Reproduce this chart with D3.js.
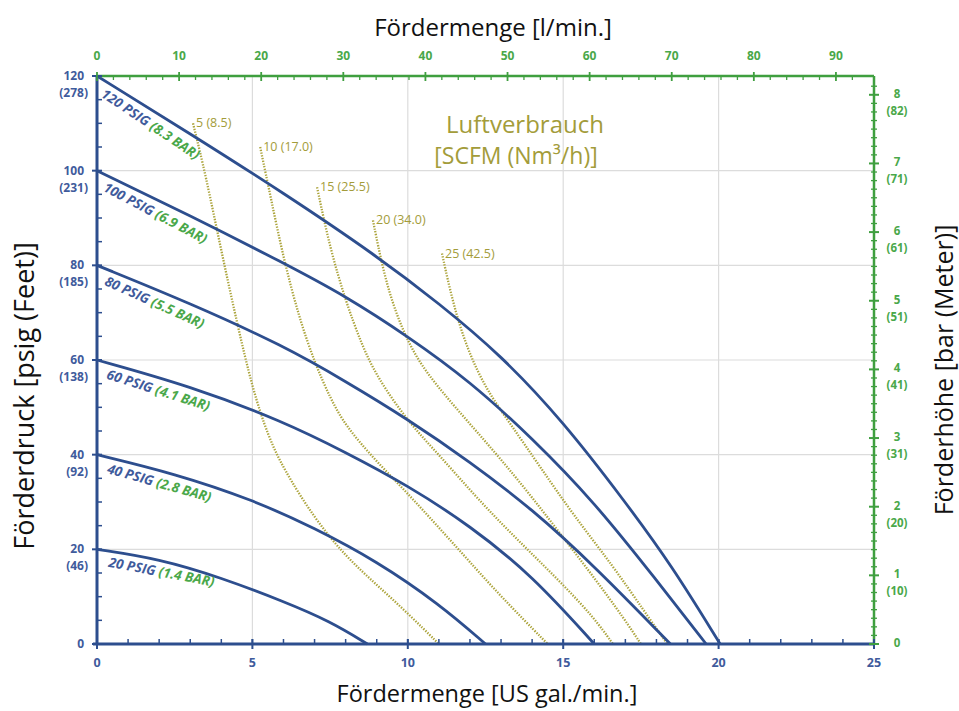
<!DOCTYPE html>
<html>
<head>
<meta charset="utf-8">
<script src="https://cdn.jsdelivr.net/npm/d3@7"></script>
<style>
  body { margin: 0; background: #fff; }
  text { font-family: "Open Sans", sans-serif; }
</style>
</head>
<body>
<div class="pumpChart"></div>
<script>
// axis ticks
const gpmTicks = [0, 5, 10, 15, 20, 25];
const lpmTicks = [0, 10, 20, 30, 40, 50, 60, 70, 80, 90];
const psiTicks = [0, 20, 40, 60, 80, 100, 120];
const feetLabels = ["", "(46)", "(92)", "(138)", "(185)", "(231)", "(278)"];
const barTicks = [0, 1, 2, 3, 4, 5, 6, 7, 8];
const meterLabels = ["", "(10)", "(20)", "(31)", "(41)", "(51)", "(61)", "(71)", "(82)"];

// pressure curves [US gal/min, psi]
const psiNames = ["120 PSIG ", "100 PSIG ", "80 PSIG ", "60 PSIG ", "40 PSIG ", "20 PSIG "];
const barNames = ["(8.3 BAR)", "(6.9 BAR)", "(5.5 BAR)", "(4.1 BAR)", "(2.8 BAR)", "(1.4 BAR)"];
const psi120 = [[0,120],[3,107.8],[6,95.3],[9,82],[11,72],[13,61],[15,47],[17,30],[18.5,16.5],[20.05,0]];
const psi100 = [[0,100],[3,90.5],[6,80.5],[8,73.5],[10,65],[12,55.5],[14,43.5],[16,30],[18,13.5],[19.6,0]];
const psi80  = [[0,80],[3,72],[6,63],[8,55.5],[10,47.5],[12,38.5],[14,28.5],[16,16.5],[18.45,0]];
const psi60  = [[0,60],[3,54.5],[6,47],[8,40.5],[10,33.5],[12,25],[14,14.5],[16,0]];
const psi40  = [[0,40],[2.5,36],[5,30.5],[7,24.5],[9,17.5],[11,8.5],[12.5,0]];
const psi20  = [[0,20],[2,18],[4,14],[6,9],[7.5,4.8],[8.7,0]];

// air consumption [US gal/min, psi]
const airNames = ["5 (8.5)", "10 (17.0)", "15 (25.5)", "20 (34.0)", "25 (42.5)"];
const air5  = [[3.09,110],[3.5,99],[4,83],[4.5,68],[5,54],[5.5,44],[6,37],[7,26.5],[8,18.5],[9,12.5],[10,6.5],[11,0]];
const air10 = [[5.25,105],[5.6,94],[6,81.5],[6.5,69],[7,59.5],[7.5,52],[8,46],[9,38.5],[10,31.8],[11,24.6],[12,17.3],[13,10],[14.5,0]];
const air15 = [[7.08,96.5],[7.5,83.5],[8,72.5],[8.5,63.5],[9,56.5],[10,47],[11,40],[12,32.5],[13,25.5],[14,19],[15,12.5],[16,5.5],[16.6,0]];
const air20 = [[8.88,89.5],[9.2,79],[9.6,70],[10.2,61],[11,54],[12,46.5],[13,39],[14,31],[15,22.5],[16,14],[17,5],[17.5,0]];
const air25 = [[11.1,82.5],[11.45,72],[11.9,62.5],[12.5,54],[13.3,46.5],[14.25,37.5],[15.3,27.5],[16.6,16.5],[17.6,7],[18.35,0]];

const LPM_PER_GPM = 3.78541;
const PSI_PER_BAR = 14.5038;

const width = 959, height = 711;
const blue = "#2d4e8e", blueText = "#3f5b9c", green = "#3f9f3f", greenText = "#4aa84a";
const olive = "#a39c3a", dots = "#aca43c";

const svg = d3.select(".pumpChart").append("svg")
    .attr("width", width)
    .attr("height", height);

const x = d3.scaleLinear().domain([0, 25]).range([97, 874]);
const y = d3.scaleLinear().domain([0, 120]).range([644, 76]);
const xL = d3.scaleLinear().domain([0, 25 * LPM_PER_GPM]).range(x.range());
const yB = d3.scaleLinear().domain([0, 120 / PSI_PER_BAR]).range(y.range());

// grid
svg.append("g").selectAll("line")
    .data(gpmTicks.slice(1, -1))
    .enter().append("line")
    .attr("x1", d => x(d)).attr("x2", d => x(d))
    .attr("y1", y(0)).attr("y2", y(120))
    .attr("stroke", "#dcdcdc").attr("stroke-width", 1.2);
svg.append("g").selectAll("line")
    .data(psiTicks.slice(1, -1))
    .enter().append("line")
    .attr("x1", x(0)).attr("x2", x(25))
    .attr("y1", d => y(d)).attr("y2", d => y(d))
    .attr("stroke", "#dcdcdc").attr("stroke-width", 1.2);

// air consumption curves
const line = d3.line().x(d => x(d[0])).y(d => y(d[1])).curve(d3.curveBasis);
const airCurves = [air5, air10, air15, air20, air25];

svg.append("g").selectAll("path")
    .data(airCurves)
    .enter().append("path")
    .attr("d", line)
    .attr("fill", "none")
    .attr("stroke", dots)
    .attr("stroke-width", 2.3)
    .attr("stroke-dasharray", "1.4,1.4");

svg.append("g").selectAll("text")
    .data(airCurves)
    .enter().append("text")
    .attr("x", d => x(d[0][0]) + 3)
    .attr("y", d => y(d[0][1]) + 4)
    .attr("font-size", "12.5px")
    .attr("fill", olive)
    .text((d, i) => airNames[i]);

// pressure curves
const psiCurves = [psi120, psi100, psi80, psi60, psi40, psi20];

svg.append("g").selectAll("path")
    .data(psiCurves)
    .enter().append("path")
    .attr("d", line)
    .attr("fill", "none")
    .attr("stroke", blue)
    .attr("stroke-width", 2.8);

const curveLabel = svg.append("g").selectAll("text")
    .data(psiCurves)
    .enter().append("text")
    .attr("transform", d => {
        const a = Math.atan2(y(d[1][1]) - y(d[0][1]), x(d[1][0]) - x(d[0][0])) * 180 / Math.PI;
        return "translate(" + x(d[0][0]) + "," + y(d[0][1]) + ") rotate(" + (a + 2) + ")";
    })
    .attr("x", 14)
    .attr("y", 15)
    .attr("font-size", "13.5px")
    .attr("font-weight", "bold")
    .attr("font-style", "italic");
curveLabel.append("tspan").attr("fill", blueText).text((d, i) => psiNames[i]);
curveLabel.append("tspan").attr("fill", greenText).text((d, i) => barNames[i]);

// axes lines
svg.append("line")
    .attr("x1", x(0)).attr("x2", x(25)).attr("y1", y(120)).attr("y2", y(120))
    .attr("stroke", green).attr("stroke-width", 2.5);
svg.append("line")
    .attr("x1", x(25)).attr("x2", x(25)).attr("y1", y(120)).attr("y2", y(0))
    .attr("stroke", green).attr("stroke-width", 2.5);
svg.append("line")
    .attr("x1", x(0)).attr("x2", x(0)).attr("y1", y(0)).attr("y2", y(120))
    .attr("stroke", blue).attr("stroke-width", 3);
svg.append("line")
    .attr("x1", x(0) - 4).attr("x2", x(25)).attr("y1", y(0)).attr("y2", y(0))
    .attr("stroke", blue).attr("stroke-width", 3);

// bottom axis ticks
svg.append("g").selectAll("line")
    .data(d3.range(1, 25))
    .enter().append("line")
    .attr("x1", d => x(d)).attr("x2", d => x(d))
    .attr("y1", y(0)).attr("y2", y(0) - 5)
    .attr("stroke", blue).attr("stroke-width", 1.5);
svg.append("g").selectAll("line")
    .data(gpmTicks)
    .enter().append("line")
    .attr("x1", d => x(d)).attr("x2", d => x(d))
    .attr("y1", y(0) - 5).attr("y2", y(0) + 5)
    .attr("stroke", blue).attr("stroke-width", 2);
svg.append("g").selectAll("text")
    .data(gpmTicks)
    .enter().append("text")
    .attr("x", d => x(d)).attr("y", y(0) + 23)
    .attr("text-anchor", "middle")
    .attr("font-size", "12.5px").attr("font-weight", "bold")
    .attr("fill", blueText)
    .text(d => d);

// left axis ticks
svg.append("g").selectAll("line")
    .data(d3.range(5, 120, 5).filter(d => d % 20 !== 0))
    .enter().append("line")
    .attr("x1", x(0)).attr("x2", x(0) + 5)
    .attr("y1", d => y(d)).attr("y2", d => y(d))
    .attr("stroke", blue).attr("stroke-width", 1.5);
svg.append("g").selectAll("line")
    .data(psiTicks)
    .enter().append("line")
    .attr("x1", x(0) - 5).attr("x2", x(0) + 5)
    .attr("y1", d => y(d)).attr("y2", d => y(d))
    .attr("stroke", blue).attr("stroke-width", 2);
const leftLabels = svg.append("g").selectAll("g")
    .data(psiTicks)
    .enter().append("g")
    .attr("transform", d => "translate(" + (x(0) - 13) + "," + y(d) + ")")
    .attr("font-size", "12px").attr("font-weight", "bold")
    .attr("fill", blueText)
    .attr("text-anchor", "end");
leftLabels.append("text").attr("y", 4).text(d => d);
leftLabels.append("text").attr("x", 4).attr("y", 21).text((d, i) => feetLabels[i]);

// top axis ticks (l/min)
svg.append("g").selectAll("line")
    .data(d3.range(2, 94, 2).filter(d => d % 10 !== 0))
    .enter().append("line")
    .attr("x1", d => xL(d)).attr("x2", d => xL(d))
    .attr("y1", y(120)).attr("y2", y(120) + 4)
    .attr("stroke", green).attr("stroke-width", 1.3);
svg.append("g").selectAll("line")
    .data(lpmTicks)
    .enter().append("line")
    .attr("x1", d => xL(d)).attr("x2", d => xL(d))
    .attr("y1", y(120) - 4).attr("y2", y(120) + 5)
    .attr("stroke", green).attr("stroke-width", 1.8);
svg.append("g").selectAll("text")
    .data(lpmTicks)
    .enter().append("text")
    .attr("x", d => xL(d)).attr("y", y(120) - 16)
    .attr("text-anchor", "middle")
    .attr("font-size", "12px").attr("font-weight", "bold")
    .attr("fill", greenText)
    .text(d => d);

// right axis ticks (bar)
svg.append("g").selectAll("line")
    .data(d3.range(0.125, 8.2, 0.125).filter(d => d % 1 !== 0))
    .enter().append("line")
    .attr("x1", x(25) - 3).attr("x2", x(25) + 3)
    .attr("y1", d => yB(d)).attr("y2", d => yB(d))
    .attr("stroke", green).attr("stroke-width", 1.3);
svg.append("g").selectAll("line")
    .data(barTicks)
    .enter().append("line")
    .attr("x1", x(25) - 5).attr("x2", x(25) + 5)
    .attr("y1", d => yB(d)).attr("y2", d => yB(d))
    .attr("stroke", green).attr("stroke-width", 2);
const rightLabels = svg.append("g").selectAll("g")
    .data(barTicks)
    .enter().append("g")
    .attr("transform", d => "translate(" + (x(25) + 23) + "," + yB(d) + ")")
    .attr("font-size", "11.5px").attr("font-weight", "bold")
    .attr("fill", greenText)
    .attr("text-anchor", "middle");
rightLabels.append("text").attr("y", 3).text(d => d);
rightLabels.append("text").attr("y", 20).text((d, i) => meterLabels[i]);

// titles
svg.append("text")
    .attr("x", 493).attr("y", 36)
    .attr("text-anchor", "middle")
    .attr("font-size", "24px").attr("fill", "#111")
    .text("Fördermenge [l/min.]");
svg.append("text")
    .attr("x", 487).attr("y", 702)
    .attr("text-anchor", "middle")
    .attr("font-size", "23.5px").attr("fill", "#111")
    .text("Fördermenge [US gal./min.]");
svg.append("text")
    .attr("transform", "translate(34,396) rotate(-90)")
    .attr("text-anchor", "middle")
    .attr("font-size", "27px").attr("fill", "#111")
    .text("Förderdruck [psig (Feet)]");
svg.append("text")
    .attr("transform", "translate(953,370) rotate(-90)")
    .attr("text-anchor", "middle")
    .attr("font-size", "25px").attr("fill", "#111")
    .text("Förderhöhe [bar (Meter)]");

// air consumption caption
svg.append("text")
    .attr("x", 525).attr("y", 133)
    .attr("text-anchor", "middle")
    .attr("font-size", "24px").attr("fill", olive)
    .text("Luftverbrauch");
svg.append("text")
    .attr("x", 516).attr("y", 164)
    .attr("text-anchor", "middle")
    .attr("font-size", "23px").attr("fill", olive)
    .text("[SCFM (Nm³/h)]");
</script>
</body>
</html>
